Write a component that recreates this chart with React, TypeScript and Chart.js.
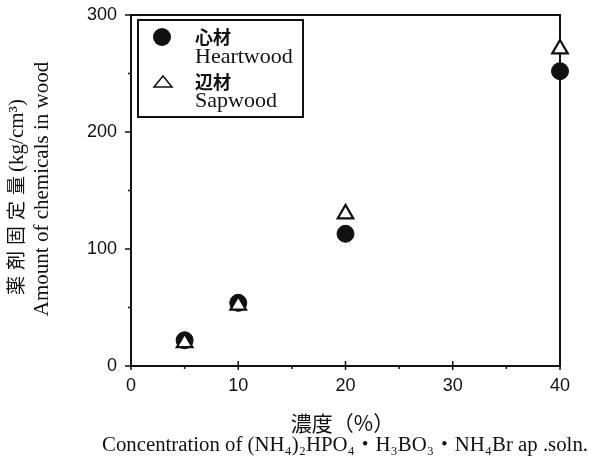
import React, { useEffect, useRef } from "react";
import { Chart, registerables } from "chart.js";

Chart.register(...registerables);

// ---- data ----
const concentrations = [5, 10, 20, 40];
const heartwood = [22, 54, 113, 252];
const sapwood = [20, 52, 130, 271];
const xTicks = [0, 10, 20, 30, 40];
const xMinorTicks = [5, 15, 25, 35];
const yTicks = [0, 100, 200, 300];
const yMinorTicks = [50, 150, 250];

const seriesJa = ["心材", "辺材"];
const seriesEn = ["Heartwood", "Sapwood"];
const yTitleJa = "薬剤固定量";
const yTitleUnit = "(kg/cm³)";
const yTitleEn = "Amount of chemicals in wood";
const xTitleJa = "濃度（%）";
const xTitleEn = "Concentration of (NH₄)₂HPO₄・H₃BO₃・NH₄Br ap .soln.";

const SERIF = "'Liberation Serif', 'DejaVu Serif', 'Noto Sans CJK JP', serif";
const CJK = "'Noto Sans CJK JP', 'Noto Sans CJK SC', sans-serif";
const TICKFONT = "'Liberation Sans', Arial, sans-serif";
const INK = "#111";

const decorPlugin = {
  id: "decor",
  beforeDatasetsDraw(chart: any) {
    const ctx = chart.ctx as CanvasRenderingContext2D;
    const xs = chart.scales.x;
    const ys = chart.scales.y;
    const { left, right, top, bottom } = chart.chartArea;
    ctx.save();
    ctx.strokeStyle = INK;
    ctx.lineWidth = 2;
    ctx.strokeRect(left, top, right - left, bottom - top);
    ctx.lineWidth = 1.5;
    ctx.beginPath();
    yTicks.forEach((v) => {
      const y = ys.getPixelForValue(v);
      ctx.moveTo(left - 6, y);
      ctx.lineTo(left, y);
    });
    yMinorTicks.forEach((v) => {
      const y = ys.getPixelForValue(v);
      ctx.moveTo(left - 3, y);
      ctx.lineTo(left, y);
    });
    xTicks.forEach((v) => {
      const x = xs.getPixelForValue(v);
      ctx.moveTo(x, bottom + 4);
      ctx.lineTo(x, bottom - 5);
    });
    xMinorTicks.forEach((v) => {
      const x = xs.getPixelForValue(v);
      ctx.moveTo(x, bottom);
      ctx.lineTo(x, bottom + 3);
    });
    ctx.stroke();
    ctx.restore();
  },
  afterDraw(chart: any) {
    const ctx = chart.ctx as CanvasRenderingContext2D;
    const { left, right, top } = chart.chartArea;
    ctx.save();
    ctx.fillStyle = INK;
    ctx.strokeStyle = INK;

    // ---- legend ----
    const lx = left + 7;
    const ly = top + 5;
    ctx.lineWidth = 2;
    ctx.strokeRect(lx, ly, 165, 97);
    ctx.beginPath();
    ctx.arc(lx + 24, ly + 17, 9, 0, Math.PI * 2);
    ctx.fill();
    ctx.lineWidth = 1.5;
    ctx.beginPath();
    ctx.moveTo(lx + 25, ly + 56);
    ctx.lineTo(lx + 34, ly + 67);
    ctx.lineTo(lx + 16, ly + 67);
    ctx.closePath();
    ctx.stroke();
    ctx.textAlign = "left";
    ctx.textBaseline = "middle";
    ctx.font = `bold 18px ${CJK}`;
    ctx.fillText(seriesJa[0], lx + 57, ly + 17);
    ctx.fillText(seriesJa[1], lx + 57, ly + 62);
    ctx.font = `22px ${SERIF}`;
    ctx.fillText(seriesEn[0], lx + 57, ly + 37);
    ctx.fillText(seriesEn[1], lx + 57, ly + 81);

    // ---- y title (rotated) ----
    ctx.save();
    ctx.translate(16, 197);
    ctx.rotate(-Math.PI / 2);
    ctx.textBaseline = "middle";
    ctx.textAlign = "left";
    ctx.font = `19px ${CJK}`;
    const chars = Array.from(yTitleJa);
    const gap = 6;
    let wJ = 0;
    chars.forEach((c, i) => {
      wJ += ctx.measureText(c).width + (i < chars.length - 1 ? gap : 0);
    });
    ctx.font = `21px ${SERIF}`;
    const wP = ctx.measureText(yTitleUnit).width;
    let cx = -(wJ + 4 + wP) / 2;
    ctx.font = `19px ${CJK}`;
    chars.forEach((c) => {
      ctx.fillText(c, cx, 0);
      cx += ctx.measureText(c).width + gap;
    });
    cx += 4 - gap;
    ctx.font = `21px ${SERIF}`;
    ctx.fillText(yTitleUnit, cx, 1);
    ctx.restore();

    ctx.save();
    ctx.translate(42, 189);
    ctx.rotate(-Math.PI / 2);
    ctx.textAlign = "center";
    ctx.textBaseline = "middle";
    ctx.font = `21px ${SERIF}`;
    ctx.fillText(yTitleEn, 0, 0);
    ctx.restore();

    // ---- x titles ----
    ctx.textAlign = "center";
    ctx.textBaseline = "middle";
    ctx.font = `21px ${CJK}`;
    ctx.fillText(xTitleJa, (left + right) / 2 - 3, 423);
    ctx.font = `20px ${SERIF}`;
    const w = ctx.measureText(xTitleEn).width;
    const size = Math.min(22, (20 * 485) / w);
    ctx.font = `${size.toFixed(1)}px ${SERIF}`;
    ctx.fillText(xTitleEn, 345, 446);
    ctx.restore();
  },
};

export default function App() {
  const ref = useRef<HTMLCanvasElement | null>(null);
  useEffect(() => {
    if (!ref.current) return;
    const chart = new Chart(ref.current, {
      type: "scatter",
      data: {
        datasets: [
          {
            label: seriesEn[1],
            data: concentrations.map((x, i) => ({ x, y: sapwood[i] })),
            pointStyle: "triangle",
            pointRadius: 9,
            pointHoverRadius: 9,
            backgroundColor: "#fff",
            borderColor: INK,
            borderWidth: 2.2,
            clip: false,
            order: 1,
          } as any,
          {
            label: seriesEn[0],
            data: concentrations.map((x, i) => ({ x, y: heartwood[i] })),
            pointStyle: "circle",
            pointRadius: 8.5,
            pointHoverRadius: 8.5,
            backgroundColor: INK,
            borderColor: INK,
            borderWidth: 1,
            clip: false,
            order: 2,
          } as any,
        ],
      },
      options: {
        animation: false,
        responsive: false,
        events: [],
        layout: { padding: { top: 15, right: 29, left: 0, bottom: 0 } },
        plugins: { legend: { display: false }, tooltip: { enabled: false } },
        scales: {
          x: {
            type: "linear",
            min: 0,
            max: 40,
            grid: { display: false, drawTicks: false },
            border: { display: false },
            afterBuildTicks: (s: any) => {
              s.ticks = xTicks.map((v) => ({ value: v }));
            },
            afterFit: (s: any) => {
              s.height = 102;
              s.paddingLeft = 0;
              s.paddingRight = 0;
            },
            ticks: {
              padding: 9,
              color: INK,
              font: { family: TICKFONT, size: 18 },
              maxRotation: 0,
              autoSkip: false,
            },
          },
          y: {
            type: "linear",
            min: 0,
            max: 300,
            grid: { display: false, drawTicks: false },
            border: { display: false },
            afterBuildTicks: (s: any) => {
              s.ticks = yTicks.map((v) => ({ value: v }));
            },
            afterFit: (s: any) => {
              s.width = 131;
              s.paddingTop = 0;
              s.paddingBottom = 0;
            },
            ticks: {
              padding: 14,
              color: INK,
              font: { family: TICKFONT, size: 18 },
              autoSkip: false,
            },
          },
        },
      },
      plugins: [decorPlugin],
    });
    return () => chart.destroy();
  }, []);
  return (
    <div style={{ position: "absolute", left: 0, top: 0, width: 589, height: 468, background: "#fff" }}>
      <canvas ref={ref} width={589} height={468} style={{ display: "block" }} />
    </div>
  );
}
